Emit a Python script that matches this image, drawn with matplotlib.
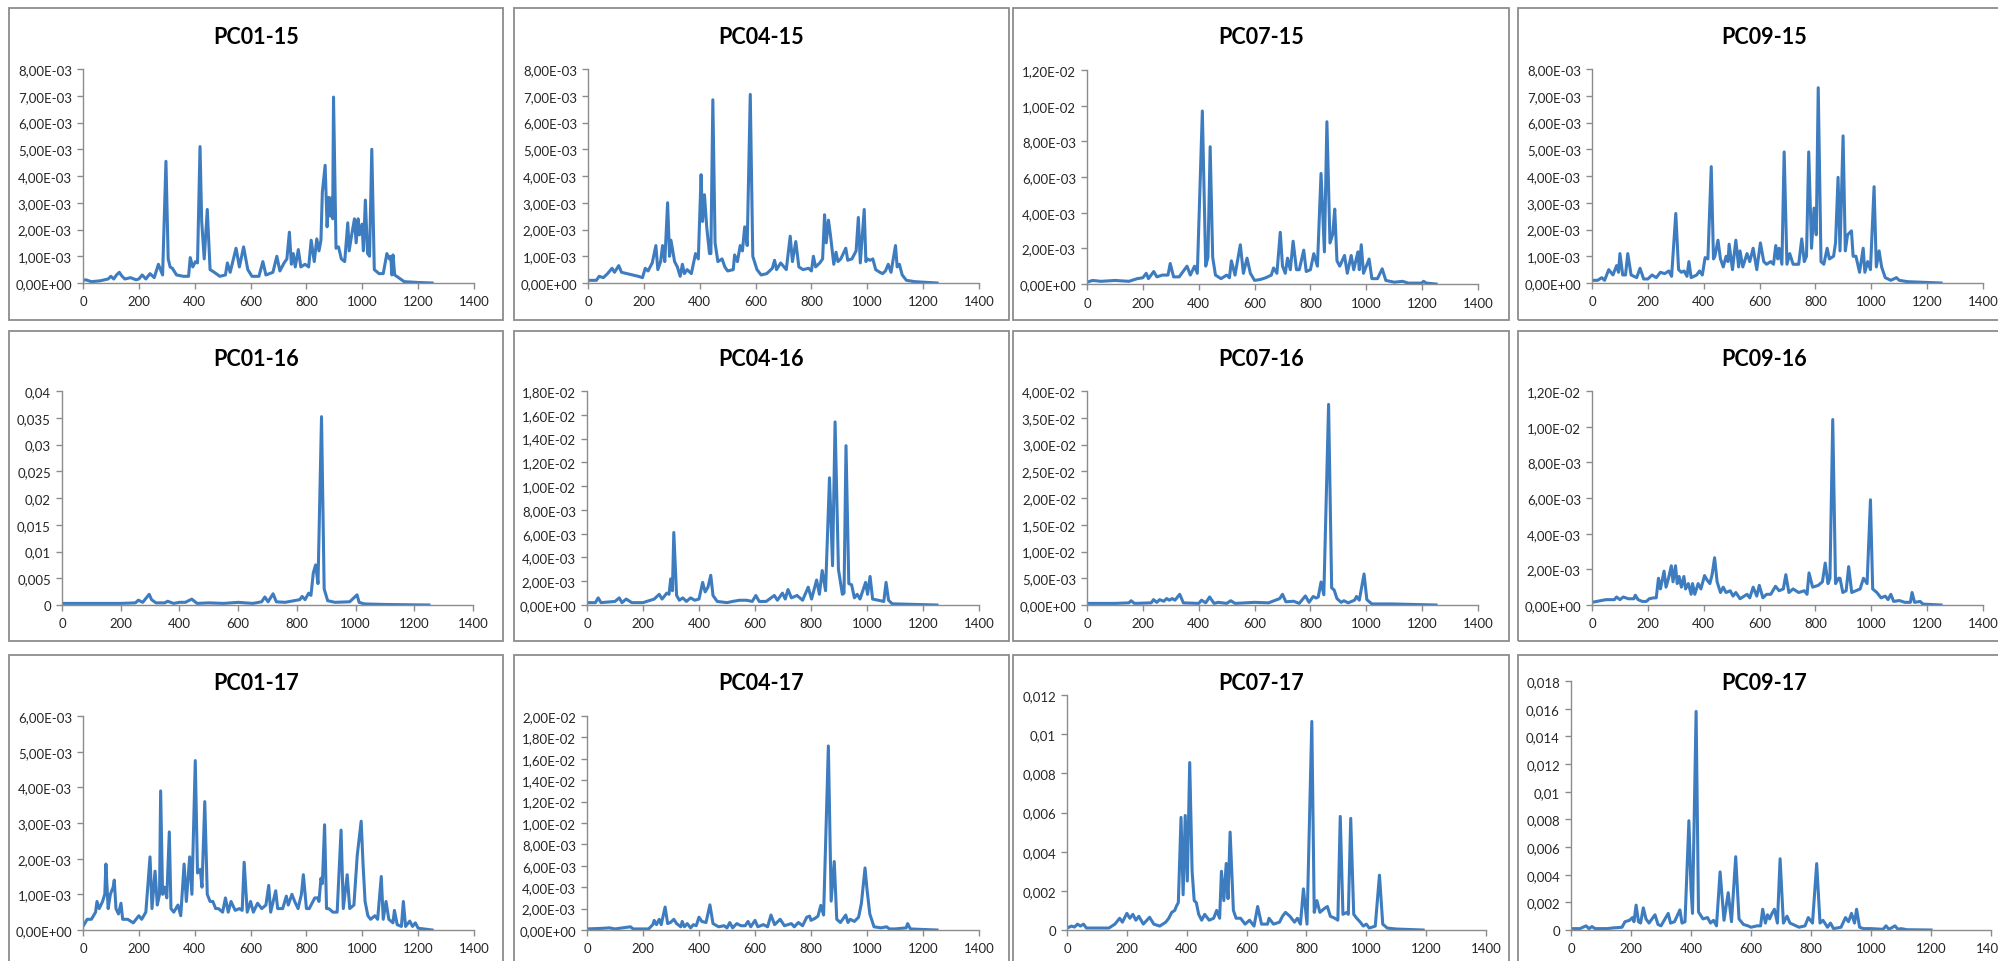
import matplotlib
matplotlib.use('Agg')
import matplotlib.pyplot as plt
import numpy as np
from matplotlib.ticker import FuncFormatter, MultipleLocator
from matplotlib.patches import Rectangle

plt.rcParams['font.family'] = ['Lato', 'DejaVu Sans']

# spectra: (x, y in units of 1e-3)
pc01_15 = [(0,0.1),(10,0.12),(30,0.05),(60,0.08),(90,0.15),(100,0.25),(110,0.15),(120,0.3),(130,0.4),(140,0.25),(150,0.15),(170,0.2),(190,0.12),(200,0.15),(212,0.3),(225,0.15),(240,0.35),(255,0.2),(270,0.7),(285,0.3),(297,4.55),(305,0.9),(312,0.6),(320,0.55),(335,0.3),(360,0.25),(378,0.25),(384,0.95),(393,0.6),(403,0.8),(410,0.75),(419,5.1),(425,2.3),(434,0.9),(445,2.75),(455,0.5),(470,0.4),(490,0.25),(510,0.3),(517,0.75),(527,0.4),(548,1.3),(560,0.6),(575,1.35),(590,0.5),(605,0.25),(630,0.25),(644,0.8),(655,0.3),(680,0.4),(694,1.0),(705,0.45),(720,0.75),(730,0.9),(739,1.9),(746,0.7),(753,1.1),(760,0.6),(771,1.25),(780,0.6),(795,0.7),(808,0.6),(817,1.6),(828,0.8),(837,1.65),(845,1.2),(852,1.6),(857,3.4),(867,4.4),(874,2.1),(880,3.2),(886,2.5),(891,3.2),(894,2.4),(897,6.95),(906,1.3),(915,1.35),(925,0.9),(937,0.8),(948,2.25),(953,1.2),(962,1.8),(972,2.4),(978,1.5),(985,2.4),(990,1.8),(999,2.2),(1004,1.2),(1011,3.1),(1019,1.1),(1026,1.0),(1034,5.0),(1043,0.5),(1060,0.35),(1075,0.35),(1088,1.1),(1097,0.9),(1102,1.0),(1106,0.3),(1110,1.05),(1116,0.3),(1130,0.2),(1150,0.05),(1200,0.02),(1250,0.0)]
pc04_15 = [(0,0.1),(30,0.1),(40,0.25),(55,0.2),(70,0.35),(86,0.55),(95,0.4),(110,0.65),(120,0.4),(140,0.35),(160,0.3),(180,0.25),(195,0.2),(205,0.55),(215,0.45),(230,0.75),(243,1.4),(250,0.5),(260,0.8),(267,1.4),(275,0.8),(285,3.0),(292,1.0),(297,1.6),(310,0.8),(320,0.6),(330,0.25),(338,0.7),(345,0.35),(355,0.5),(370,0.35),(385,1.1),(395,0.9),(405,4.05),(410,2.3),(417,3.3),(425,2.1),(435,1.1),(440,1.1),(447,6.85),(455,1.5),(465,0.8),(480,0.9),(490,0.6),(500,0.45),(520,0.5),(525,1.05),(535,0.8),(545,1.4),(553,1.2),(561,2.1),(570,1.4),(581,7.05),(590,1.0),(605,0.5),(620,0.3),(640,0.35),(660,0.55),(668,0.85),(675,0.5),(690,0.75),(710,0.5),(724,1.75),(732,0.8),(744,1.55),(755,0.6),(770,0.5),(790,0.55),(800,0.45),(807,1.0),(815,0.6),(830,0.75),(840,0.9),(847,2.55),(853,1.5),(861,2.35),(868,1.8),(880,0.7),(888,1.15),(895,0.8),(905,0.9),(923,1.3),(930,0.85),(945,0.9),(960,1.2),(968,2.45),(975,0.75),(989,2.75),(995,0.8),(1000,0.9),(1010,0.85),(1020,0.9),(1030,0.5),(1045,0.4),(1055,0.35),(1065,0.45),(1075,0.7),(1085,0.4),(1101,1.4),(1107,0.6),(1115,0.7),(1125,0.3),(1140,0.1),(1170,0.05),(1250,0.0)]
pc07_15 = [(0,0.1),(20,0.2),(50,0.15),(100,0.2),(150,0.15),(180,0.3),(200,0.35),(212,0.6),(220,0.3),(239,0.7),(250,0.4),(270,0.5),(290,0.5),(298,1.15),(310,0.4),(330,0.4),(358,1.0),(370,0.5),(385,1.0),(395,0.6),(413,9.7),(425,1.0),(433,1.5),(441,7.7),(450,1.5),(460,0.5),(480,0.3),(500,0.5),(510,0.35),(517,1.3),(530,0.5),(549,2.2),(560,0.6),(573,1.45),(585,0.6),(600,0.2),(620,0.25),(640,0.35),(660,0.5),(668,0.9),(680,0.6),(692,2.9),(700,1.0),(710,0.6),(718,1.45),(728,0.8),(738,2.4),(750,0.8),(760,0.8),(776,1.9),(785,0.7),(800,0.8),(812,1.7),(825,1.0),(838,6.2),(850,1.8),(859,9.1),(870,2.3),(880,2.8),(887,4.2),(895,1.3),(905,1.0),(922,1.6),(932,0.6),(946,1.6),(955,0.8),(970,1.8),(975,0.8),(982,2.2),(990,0.6),(1010,1.4),(1020,0.3),(1040,0.3),(1057,0.85),(1070,0.2),(1100,0.1),(1130,0.15),(1150,0.05),(1198,0.05),(1205,0.15),(1215,0.05),(1250,0.0)]
pc09_15 = [(0,0.1),(20,0.1),(35,0.2),(45,0.1),(60,0.5),(75,0.3),(88,0.65),(95,0.4),(100,1.1),(110,0.3),(120,0.3),(128,1.1),(140,0.3),(160,0.2),(172,0.55),(185,0.15),(200,0.15),(215,0.3),(230,0.2),(245,0.4),(260,0.35),(275,0.45),(285,0.25),(300,2.6),(310,0.5),(320,0.4),(330,0.45),(340,0.25),(347,0.8),(355,0.2),(375,0.3),(385,0.45),(395,0.3),(405,0.95),(415,0.9),(427,4.35),(435,0.9),(440,1.0),(451,1.6),(460,0.9),(470,0.6),(480,1.0),(487,0.8),(491,1.45),(503,0.5),(515,1.6),(525,0.6),(530,1.2),(540,0.6),(555,1.1),(565,0.8),(577,1.3),(590,0.5),(603,1.5),(615,0.8),(625,0.7),(640,0.8),(650,0.7),(658,1.4),(665,0.9),(670,1.3),(680,0.7),(688,4.9),(698,0.7),(708,1.1),(720,0.7),(740,0.7),(751,1.65),(760,0.8),(768,1.0),(776,4.9),(786,1.3),(795,2.8),(803,1.8),(810,7.3),(820,0.8),(830,0.7),(842,1.3),(850,0.9),(865,1.0),(872,1.5),(881,3.95),(888,1.2),(899,5.5),(907,1.2),(915,1.8),(929,1.95),(935,1.0),(945,1.0),(958,0.4),(971,1.3),(977,0.4),(987,0.8),(997,0.5),(1010,3.6),(1018,0.6),(1028,1.2),(1037,0.6),(1050,0.2),(1070,0.1),(1090,0.2),(1100,0.1),(1130,0.05),(1200,0.02),(1250,0.0)]
pc01_16 = [(0,0.3),(100,0.3),(200,0.3),(250,0.4),(260,0.9),(275,0.5),(297,2.0),(305,1.0),(320,0.4),(350,0.4),(360,0.7),(380,0.3),(400,0.5),(420,0.5),(442,1.1),(460,0.3),(500,0.4),(550,0.3),(600,0.5),(650,0.3),(680,0.6),(691,1.5),(702,0.6),(719,2.1),(730,0.6),(760,0.5),(790,0.8),(810,1.0),(818,1.6),(828,1.0),(840,2.2),(848,1.8),(856,6.0),(864,7.5),(872,4.0),(884,35.2),(893,3.0),(905,0.8),(930,0.5),(980,0.6),(1005,1.9),(1012,0.5),(1030,0.2),(1100,0.1),(1250,0.0)]
pc04_16 = [(0,0.2),(30,0.2),(40,0.6),(50,0.2),(100,0.3),(115,0.6),(125,0.2),(140,0.5),(160,0.2),(200,0.2),(240,0.5),(258,0.9),(268,0.5),(285,1.0),(293,0.9),(299,2.2),(305,1.2),(310,6.1),(320,0.8),(330,0.4),(342,0.6),(355,0.3),(370,0.6),(385,0.4),(400,0.5),(413,1.9),(422,1.1),(432,1.5),(442,2.5),(450,0.8),(465,0.3),(500,0.2),(520,0.3),(545,0.4),(570,0.4),(590,0.3),(603,0.8),(615,0.3),(640,0.3),(669,0.8),(680,0.4),(698,1.0),(708,0.5),(718,1.3),(730,0.6),(750,0.8),(770,0.4),(790,1.5),(802,0.5),(820,2.1),(830,0.9),(840,2.9),(852,1.2),(866,10.7),(877,3.3),(886,15.4),(898,3.0),(912,0.9),(918,1.0),(925,13.4),(935,1.8),(945,1.7),(955,0.6),(965,0.9),(975,0.5),(995,1.9),(1002,0.9),(1011,2.4),(1020,0.5),(1040,0.4),(1060,0.3),(1068,1.9),(1077,0.4),(1090,0.1),(1250,0.0)]
pc07_16 = [(0,0.3),(100,0.3),(150,0.4),(158,0.8),(170,0.3),(230,0.4),(238,1.0),(250,0.5),(260,1.0),(275,0.7),(285,1.2),(295,0.9),(305,1.2),(315,0.9),(332,2.0),(345,0.4),(400,0.3),(410,0.9),(425,0.4),(439,1.5),(455,0.3),(470,0.5),(500,0.3),(515,0.8),(530,0.3),(600,0.5),(650,0.4),(690,1.2),(700,2.0),(712,0.6),(740,0.7),(760,0.3),(782,1.7),(795,0.5),(810,1.6),(820,1.3),(828,1.5),(838,4.3),(848,1.9),(865,37.5),(876,3.2),(885,2.8),(895,1.2),(910,0.5),(920,0.8),(935,0.4),(958,0.9),(965,1.6),(975,0.9),(992,5.8),(1002,1.0),(1020,0.2),(1090,0.2),(1250,0.0)]
pc09_16 = [(0,0.15),(50,0.3),(80,0.3),(88,0.45),(100,0.3),(112,0.45),(130,0.35),(150,0.35),(155,0.55),(165,0.3),(180,0.2),(195,0.2),(205,0.35),(220,0.4),(230,0.4),(238,1.5),(245,0.9),(258,1.9),(265,1.0),(274,1.5),(284,2.2),(290,1.3),(299,2.2),(305,1.2),(312,1.6),(320,1.0),(329,1.6),(335,0.9),(345,1.2),(355,0.6),(360,1.2),(368,0.6),(380,1.2),(390,0.9),(403,1.65),(412,1.4),(422,1.2),(430,1.7),(439,2.65),(448,1.3),(460,0.7),(470,1.0),(480,0.7),(495,0.8),(505,0.5),(515,0.7),(530,0.35),(555,0.6),(565,0.4),(577,1.0),(590,0.5),(599,1.1),(612,0.4),(625,0.6),(640,0.6),(657,1.05),(670,0.8),(685,0.9),(694,1.7),(705,0.7),(720,0.9),(740,0.7),(760,0.8),(770,0.6),(777,1.8),(790,1.0),(810,1.1),(825,1.3),(835,2.35),(845,1.2),(852,1.5),(862,10.4),(872,1.2),(883,1.5),(888,1.5),(898,0.7),(910,0.8),(919,2.15),(930,0.7),(945,0.8),(960,0.9),(972,1.5),(985,1.2),(997,5.9),(1005,0.9),(1020,0.7),(1035,0.4),(1050,0.5),(1060,0.3),(1070,0.6),(1080,0.2),(1100,0.25),(1120,0.15),(1140,0.15),(1146,0.7),(1155,0.15),(1175,0.2),(1185,0.05),(1250,0.0)]
pc01_17 = [(0,0.1),(15,0.3),(30,0.3),(45,0.5),(50,0.8),(58,0.6),(70,0.8),(78,1.0),(82,1.85),(90,0.6),(98,1.0),(108,1.2),(112,1.4),(118,0.6),(127,0.45),(136,0.75),(142,0.3),(160,0.3),(180,0.2),(200,0.4),(210,0.3),(225,0.5),(240,2.05),(247,0.6),(258,1.65),(266,0.7),(274,1.0),(278,3.9),(285,1.0),(292,1.2),(300,0.9),(309,2.75),(315,0.6),(325,0.5),(340,0.7),(350,0.4),(362,1.85),(370,0.8),(382,2.05),(390,1.0),(402,4.75),(410,1.6),(420,1.7),(426,1.2),(436,3.6),(445,1.0),(455,0.8),(465,0.8),(475,0.6),(485,0.6),(500,0.5),(510,0.9),(520,0.5),(530,0.8),(545,0.55),(560,0.6),(570,0.55),(577,1.9),(588,0.5),(600,0.8),(610,0.5),(625,0.75),(640,0.6),(655,0.7),(665,1.25),(672,0.5),(690,1.1),(697,0.6),(715,0.6),(728,0.95),(735,0.7),(748,1.0),(758,0.8),(770,0.6),(782,1.0),(789,1.55),(800,0.6),(810,0.6),(830,0.9),(840,0.9),(845,0.8),(852,1.45),(857,1.3),(865,2.95),(872,0.6),(880,0.6),(895,0.5),(910,0.5),(924,2.8),(932,0.6),(946,1.55),(955,0.6),(970,0.7),(982,2.1),(996,3.05),(1003,1.8),(1010,0.8),(1020,0.4),(1030,0.3),(1045,0.4),(1055,0.3),(1068,1.5),(1075,0.3),(1085,0.8),(1095,0.3),(1110,0.2),(1115,0.55),(1125,0.15),(1140,0.1),(1147,0.8),(1155,0.1),(1170,0.25),(1180,0.1),(1190,0.2),(1200,0.05),(1250,0.0)]
pc04_17 = [(0,0.1),(50,0.15),(80,0.2),(100,0.1),(155,0.3),(165,0.1),(220,0.1),(235,0.5),(240,0.9),(248,0.5),(258,1.0),(265,0.5),(279,2.15),(288,0.6),(298,0.7),(310,1.0),(320,0.6),(335,0.3),(340,0.8),(348,0.3),(358,0.6),(370,0.2),(380,0.5),(390,0.4),(400,1.2),(410,0.8),(425,0.7),(439,2.35),(450,0.6),(470,0.3),(490,0.4),(500,0.2),(510,0.7),(520,0.2),(535,0.6),(550,0.4),(565,0.4),(575,0.8),(585,0.3),(600,0.9),(610,0.3),(630,0.5),(645,0.3),(657,1.4),(670,0.5),(690,1.0),(705,0.4),(730,0.6),(740,0.3),(755,0.7),(770,0.4),(785,1.2),(795,1.3),(800,0.9),(815,1.1),(825,1.3),(835,2.3),(845,1.4),(862,17.2),(872,2.7),(883,6.4),(892,1.0),(905,0.7),(924,1.4),(932,0.7),(940,1.0),(955,0.8),(970,1.2),(980,2.5),(993,5.8),(1000,3.8),(1010,1.5),(1025,0.3),(1050,0.2),(1070,0.3),(1080,0.1),(1100,0.1),(1140,0.2),(1145,0.6),(1155,0.1),(1200,0.05),(1250,0.0)]
pc07_17 = [(0,0.1),(15,0.2),(25,0.15),(35,0.3),(45,0.2),(55,0.3),(65,0.1),(100,0.1),(140,0.1),(160,0.3),(176,0.6),(185,0.4),(200,0.85),(210,0.6),(220,0.8),(230,0.5),(240,0.7),(255,0.3),(276,0.65),(290,0.3),(310,0.2),(330,0.4),(340,0.6),(350,0.9),(360,1.0),(365,1.2),(372,1.4),(381,5.75),(388,1.8),(395,5.85),(402,2.5),(410,8.55),(418,3.0),(425,1.5),(432,1.4),(440,0.8),(450,0.5),(460,0.8),(475,0.5),(490,0.6),(500,1.0),(510,0.6),(516,3.0),(524,1.5),(532,3.4),(538,1.6),(545,5.0),(556,1.0),(565,0.6),(580,0.6),(595,0.3),(610,0.5),(625,0.2),(637,1.2),(650,0.3),(670,0.3),(675,0.6),(690,0.3),(710,0.4),(720,0.7),(730,0.9),(745,0.7),(760,0.4),(770,0.6),(780,0.3),(790,2.1),(802,0.3),(818,10.65),(826,0.9),(835,1.5),(845,0.9),(860,1.1),(870,1.2),(880,0.7),(895,0.6),(905,0.5),(913,5.8),(922,0.8),(935,0.9),(940,0.8),(948,5.7),(958,0.8),(968,0.6),(980,0.4),(990,0.2),(1000,0.3),(1010,0.1),(1030,0.2),(1044,2.8),(1055,0.3),(1070,0.1),(1100,0.05),(1190,0.0)]
pc09_17 = [(0,0.1),(30,0.1),(50,0.3),(60,0.1),(70,0.25),(80,0.1),(120,0.1),(140,0.15),(170,0.2),(180,0.6),(195,0.7),(205,0.9),(210,0.6),(217,1.8),(225,0.6),(232,0.5),(241,1.6),(250,0.8),(260,0.5),(280,1.1),(290,0.4),(300,0.3),(324,1.2),(332,0.5),(345,0.6),(363,1.45),(370,0.5),(380,0.6),(393,7.9),(400,3.0),(405,1.2),(417,15.8),(425,1.3),(440,0.8),(455,0.9),(465,0.5),(475,0.7),(485,0.3),(497,4.2),(510,0.7),(524,2.7),(535,0.6),(549,5.3),(560,0.8),(575,0.4),(590,0.3),(600,0.2),(620,0.3),(632,0.3),(639,1.5),(648,0.5),(655,1.1),(662,0.8),(670,1.2),(678,1.5),(688,0.5),(697,5.15),(708,0.5),(720,1.0),(730,0.5),(740,0.4),(760,0.2),(780,0.3),(791,0.9),(805,0.5),(819,4.8),(830,0.5),(840,0.7),(855,0.2),(865,0.5),(875,0.1),(900,0.2),(915,0.9),(925,0.6),(935,1.2),(945,0.5),(952,1.5),(962,0.2),(975,0.1),(1000,0.1),(1040,0.05),(1050,0.3),(1060,0.05),(1080,0.3),(1090,0.05),(1100,0.1),(1120,0.02),(1200,0.0)]

titles = ['PC01-15', 'PC04-15', 'PC07-15', 'PC09-15',
          'PC01-16', 'PC04-16', 'PC07-16', 'PC09-16',
          'PC01-17', 'PC04-17', 'PC07-17', 'PC09-17']
spectra = [pc01_15, pc04_15, pc07_15, pc09_15,
           pc01_16, pc04_16, pc07_16, pc09_16,
           pc01_17, pc04_17, pc07_17, pc09_17]
y_max = [8e-3, 8e-3, 1.2e-2, 8e-3, 0.04, 1.8e-2, 4e-2, 1.2e-2, 6e-3, 2e-2, 0.012, 0.018]
y_step = [1e-3, 1e-3, 2e-3, 1e-3, 0.005, 2e-3, 5e-3, 2e-3, 1e-3, 2e-3, 0.002, 0.002]
y_sci = [True, True, True, True, False, True, True, True, True, True, False, False]

# layout in pixels
W, H = 1999, 962
col_edges = [(9, 503), (514, 1009), (1013, 1509), (1518, 2010)]
row_edges = [(9, 321), (332, 642), (656, 975)]
axes_px = [(83, 70, 474, 284), (588, 70, 979, 284), (1087, 71, 1478, 285), (1592, 70, 1983, 284),
           (62, 392, 473, 606), (587, 392, 979, 606), (1087, 392, 1478, 606), (1592, 392, 1983, 606),
           (83, 717, 474, 931), (587, 717, 979, 931), (1067, 696, 1486, 931), (1571, 682, 1991, 931)]

line_col = '#3E7CC0'
axis_col = '#8C8C8C'
text_col = '#262626'

fig = plt.figure(figsize=(W / 100, H / 100), dpi=100)

def sci_fmt(v, pos):
    return ('%.2E' % v).replace('.', ',')

def gen_fmt(v, pos):
    return ('%g' % round(v, 6)).replace('.', ',')

for i in range(12):
    r, c = divmod(i, 4)
    pl, pr = col_edges[c]
    pt, pb = row_edges[r]
    fig.patches.append(Rectangle((pl / W, 1 - pb / H), (pr - pl) / W, (pb - pt) / H,
                                 transform=fig.transFigure, fill=False,
                                 edgecolor=axis_col, linewidth=1.3))
    fig.text((pl + pr) / 2 / W, 1 - (pt + 28) / H, titles[i], ha='center', va='center',
             fontsize=15.5, fontweight='bold', color='black')

    l, t, rr, b = axes_px[i]
    ax = fig.add_axes([l / W, 1 - b / H, (rr - l) / W, (b - t) / H])
    ax.patch.set_alpha(0)
    x, y = zip(*spectra[i])
    ax.plot(x, np.array(y) * 1e-3, color=line_col, linewidth=2.2, solid_joinstyle='round')
    ax.set_xlim(0, 1400)
    ax.set_ylim(0, y_max[i])
    ax.xaxis.set_major_locator(MultipleLocator(200))
    ax.yaxis.set_major_locator(MultipleLocator(y_step[i]))
    ax.yaxis.set_major_formatter(FuncFormatter(sci_fmt if y_sci[i] else gen_fmt))
    for s in ['top', 'right']:
        ax.spines[s].set_visible(False)
    for s in ['left', 'bottom']:
        ax.spines[s].set_color(axis_col)
        ax.spines[s].set_linewidth(1.0)
    ax.tick_params(direction='out', length=4, width=1.0, color=axis_col,
                   labelsize=9.5, labelcolor=text_col)
    ax.tick_params(axis='x', pad=5)
    ax.tick_params(axis='y', pad=4)

fig.savefig('out.png', dpi=100)
